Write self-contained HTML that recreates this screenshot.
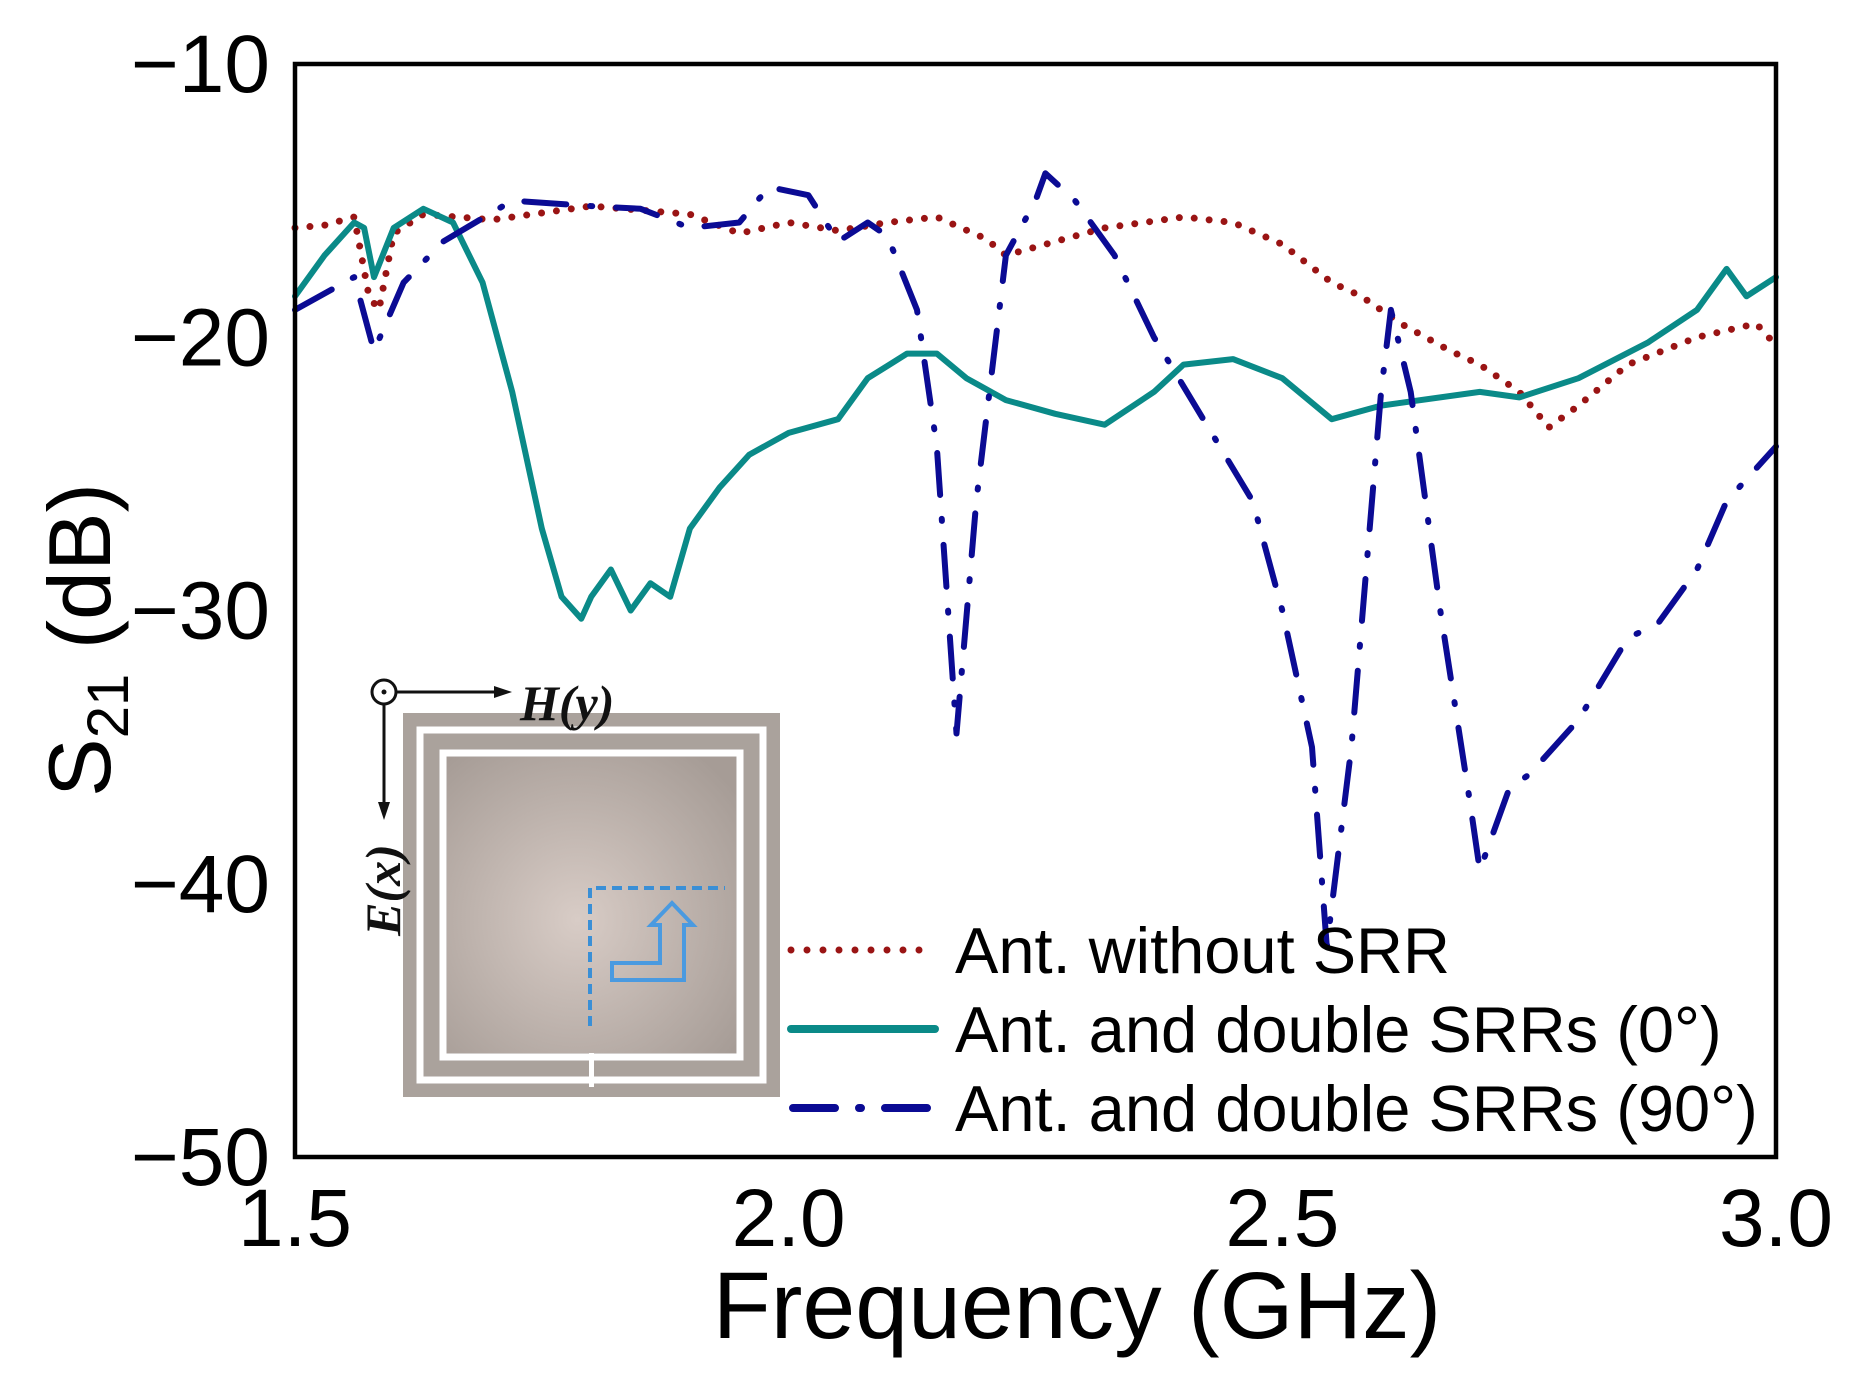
<!DOCTYPE html>
<html><head><meta charset="utf-8">
<style>
html,body{margin:0;padding:0;background:#fff;}
svg{display:block;}
text{font-family:"Liberation Sans",Arial,sans-serif;}
</style></head>
<body>
<svg id="chart" width="1854" height="1384" viewBox="0 0 1854 1384" xmlns="http://www.w3.org/2000/svg">
  <defs>
    <radialGradient id="sub" cx="0.45" cy="0.55" r="0.7">
      <stop offset="0" stop-color="#d8ccc6"/>
      <stop offset="1" stop-color="#a69c96"/>
    </radialGradient>
  </defs>
  <g id="inset">
    <rect x="403" y="713" width="377" height="384" fill="#aaa29c"/>
    <rect x="420" y="730" width="343" height="350" fill="none" stroke="#fff" stroke-width="7"/>
    <rect x="443" y="753" width="297" height="304" fill="none" stroke="#fff" stroke-width="7"/>
    <rect x="447" y="757" width="289" height="296" fill="url(#sub)"/>
    <rect x="589" y="1053" width="5" height="34" fill="#fff"/>
    <path d="M590 1026 V888 H725" fill="none" stroke="#3a8fd6" stroke-width="4" stroke-dasharray="10,6"/>
    <path d="M612 963 H660 V925 H651 L672 903 L693 925 H684 V980 H612 Z" fill="none" stroke="#4a9ae0" stroke-width="4"/>
    <circle cx="384" cy="692" r="12" fill="#fff" stroke="#111" stroke-width="3"/>
    <circle cx="384" cy="692" r="2.5" fill="#111"/>
    <line x1="396" y1="692" x2="500" y2="692" stroke="#111" stroke-width="3"/>
    <polygon points="512,692 494,686 494,698" fill="#111"/>
    <line x1="384" y1="704" x2="384" y2="808" stroke="#111" stroke-width="3"/>
    <polygon points="384,820 378,802 390,802" fill="#111"/>
    <text x="520" y="720" font-style="italic" font-weight="bold" font-size="50" fill="#111" style="font-family:'Liberation Serif',serif">H(y)</text>
    <text transform="translate(400,890) rotate(-90)" text-anchor="middle" font-style="italic" font-weight="bold" font-size="50" fill="#111" style="font-family:'Liberation Serif',serif">E(x)</text>
  </g>
  <g id="plot"></g>
  <rect x="295" y="64" width="1481" height="1093" fill="none" stroke="#000" stroke-width="4.5"/>
  <g id="axes"></g>
  <text x="1077" y="1338" text-anchor="middle" font-size="95" fill="#000">Frequency (GHz)</text>
  <text transform="translate(110,640) rotate(-90)" text-anchor="middle" font-size="88" fill="#000">S<tspan font-size="58" dy="18">21</tspan><tspan dy="-18"> (dB)</tspan></text>
  <g id="legend">
    <line x1="791" y1="950" x2="935" y2="950" stroke="#9a1414" stroke-width="7" stroke-linecap="round" stroke-dasharray="0,16"/>
    <text x="955" y="973" font-size="65">Ant. without SRR</text>
    <line x1="791" y1="1029" x2="935" y2="1029" stroke="#0a8a88" stroke-width="8" stroke-linecap="round"/>
    <text x="955" y="1052" font-size="65">Ant. and double SRRs (0°)</text>
    <line x1="793" y1="1108" x2="935" y2="1108" stroke="#0b0b94" stroke-width="8" stroke-linecap="round" stroke-dasharray="42,24,2,24"/>
    <text x="955" y="1131" font-size="65">Ant. and double SRRs (90°)</text>
  </g>
</svg>
<script>
const xTicks = [1.5, 2.0, 2.5, 3.0];
const xTickLabels = ["1.5", "2.0", "2.5", "3.0"];
const yTicks = [-10, -20, -30, -40, -50];
const yTickLabels = ["\u221210", "\u221220", "\u221230", "\u221240", "\u221250"];

const freqRed = [1.5,1.53,1.56,1.575,1.585,1.6,1.63,1.7,1.8,1.9,1.95,2.0,2.05,2.1,2.15,2.2,2.22,2.27,2.32,2.4,2.45,2.5,2.55,2.58,2.62,2.67,2.7,2.74,2.77,2.8,2.85,2.92,2.98,3.0];
const dbRed   = [-16,-15.9,-15.6,-18.5,-19,-16.2,-15.5,-15.7,-15.2,-15.5,-16.2,-15.8,-16.1,-15.8,-15.6,-16.4,-17,-16.5,-16,-15.6,-15.8,-16.6,-18,-18.5,-19.5,-20.5,-21,-22,-23.3,-22.5,-21,-20,-19.5,-20.3];

const freqTeal = [1.5,1.53,1.56,1.57,1.58,1.6,1.63,1.66,1.69,1.72,1.75,1.77,1.79,1.8,1.82,1.84,1.86,1.88,1.9,1.93,1.96,2.0,2.05,2.08,2.12,2.15,2.18,2.22,2.27,2.32,2.37,2.4,2.45,2.5,2.55,2.6,2.7,2.74,2.8,2.87,2.92,2.95,2.97,3.0];
const dbTeal   = [-18.5,-17,-15.8,-16,-17.8,-16,-15.3,-15.8,-18,-22,-27,-29.5,-30.3,-29.5,-28.5,-30,-29,-29.5,-27,-25.5,-24.3,-23.5,-23,-21.5,-20.6,-20.6,-21.5,-22.3,-22.8,-23.2,-22,-21,-20.8,-21.5,-23,-22.5,-22,-22.2,-21.5,-20.2,-19,-17.5,-18.5,-17.8];

const freqBlue = [1.5,1.56,1.58,1.61,1.65,1.72,1.8,1.85,1.9,1.95,1.98,2.02,2.05,2.08,2.1,2.13,2.15,2.17,2.19,2.22,2.25,2.26,2.29,2.33,2.37,2.42,2.47,2.5,2.53,2.545,2.57,2.6,2.61,2.63,2.66,2.69,2.7,2.73,2.75,2.8,2.85,2.88,2.92,2.95,3.0];
const dbBlue   = [-19,-17.8,-20.5,-18,-16.5,-15,-15.2,-15.3,-16,-15.8,-14.5,-14.8,-16.5,-15.8,-16.3,-19,-24,-34.5,-26,-17,-15,-14,-15,-17,-20,-23,-26,-30,-35,-42.3,-35,-22,-19,-22,-30,-37,-39.5,-36.5,-36,-34,-31,-30.5,-28.5,-26,-24];

const L = 295, R = 1776, T = 64, B = 1157;
const xMin = 1.5, xMax = 3.0, yMax = -10, yMin = -50;
function X(f){ return L + (f - xMin) / (xMax - xMin) * (R - L); }
function Y(d){ return T + (yMax - d) / (yMax - yMin) * (B - T); }

const NS = "http://www.w3.org/2000/svg";
const plot = document.getElementById('plot');
const axes = document.getElementById('axes');

function addSeries(fs, ds, color, width, dash, name){
  const p = document.createElementNS(NS, 'path');
  let d = '';
  for (let i = 0; i < fs.length; i++) d += (i ? 'L' : 'M') + X(fs[i]).toFixed(1) + ' ' + Y(ds[i]).toFixed(1);
  p.setAttribute('d', d);
  p.setAttribute('fill', 'none');
  p.setAttribute('stroke', color);
  p.setAttribute('stroke-width', width);
  p.setAttribute('stroke-linecap', 'round');
  p.setAttribute('stroke-linejoin', 'round');
  if (dash) p.setAttribute('stroke-dasharray', dash);
  
  
  plot.appendChild(p);
}
addSeries(freqRed, dbRed, '#9a1414', 7, '0,15', 'series-ant-without-srr');
addSeries(freqTeal, dbTeal, '#0a8a88', 6, null, 'series-double-srr-0deg');
addSeries(freqBlue, dbBlue, '#0b0b94', 6, '42,24,2,24', 'series-double-srr-90deg');

for (let i = 0; i < xTicks.length; i++){
  const t = document.createElementNS(NS, 'text');
  t.setAttribute('x', X(xTicks[i]));
  t.setAttribute('y', 1246);
  t.setAttribute('text-anchor', 'middle');
  t.setAttribute('font-size', '82');
  t.textContent = xTickLabels[i];
  
  
  axes.appendChild(t);
}
for (let i = 0; i < yTicks.length; i++){
  const t = document.createElementNS(NS, 'text');
  t.setAttribute('x', 270);
  t.setAttribute('y', Y(yTicks[i]) + 28);
  t.setAttribute('text-anchor', 'end');
  t.setAttribute('font-size', '82');
  t.textContent = yTickLabels[i];
  
  
  axes.appendChild(t);
}
</script>
</body></html>
